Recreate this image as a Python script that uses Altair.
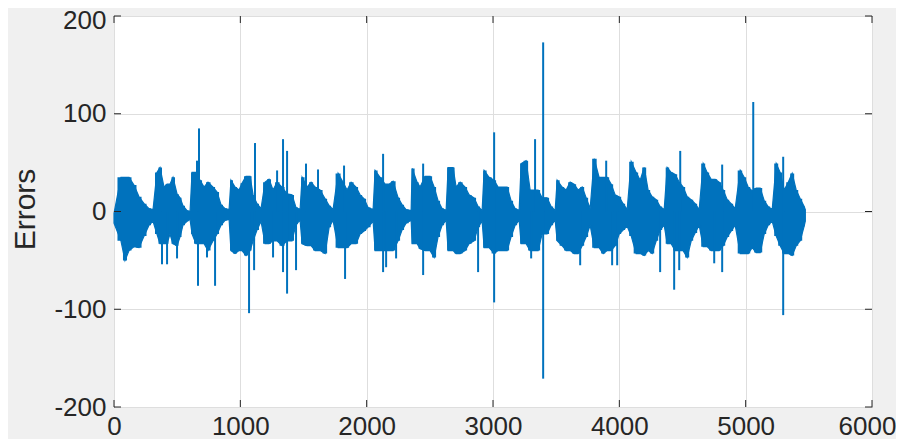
import altair as alt
import pandas as pd

# ---- data ----
title_text = "MSE = 288.1169, RMSE = 16.974"

# envelope of the dense error trace (upper / lower extent at each sample position)
err_x = [0, 55, 87, 119, 158, 198, 238, 277, 309, 340, 364, 396, 420, 443, 467, 499, 523, 546, 578, 602,
         618, 649, 681, 713, 744, 784, 816, 847, 879, 911, 926, 958, 990, 1013, 1045, 1077, 1101, 1132, 1164,
         1196, 1227, 1259, 1291, 1330, 1370, 1409, 1441, 1473, 1489, 1528, 1560, 1592, 1631, 1671, 1703, 1734,
         1774, 1813, 1845, 1877, 1916, 1948, 1980, 2011, 2051, 2067, 2106, 2146, 2177, 2209, 2249, 2280, 2312,
         2352, 2360, 2399, 2423, 2463, 2502, 2534, 2565, 2597, 2629, 2645, 2684, 2708, 2740, 2779, 2811, 2850,
         2882, 2914, 2930, 2969, 3009, 3040, 3080, 3112, 3143, 3175, 3207, 3223, 3262, 3294, 3326, 3357, 3389,
         3428, 3460, 3492, 3508, 3547, 3579, 3611, 3642, 3674, 3706, 3737, 3769, 3801, 3840, 3872, 3904, 3935,
         3967, 3999, 4030, 4062, 4094, 4133, 4165, 4197, 4228, 4260, 4292, 4323, 4355, 4379, 4410, 4442, 4474,
         4505, 4537, 4569, 4600, 4632, 4664, 4695, 4727, 4759, 4790, 4822, 4854, 4885, 4917, 4957, 4988, 5020,
         5052, 5083, 5115, 5147, 5178, 5210, 5242, 5273, 5305, 5337, 5368, 5400, 5432, 5463, 5472]
err_upper = [-2, 35, 35, 35, 27, 15, 8, 3, 2, 40, 45, 25, 28, 28, 35, 18, 14, 6, 1, 0,
             40, 40, 32, 25, 30, 25, 20, 7, 3, 2, 32, 25, 22, 29, 36, 36, 17, 8, 3,
             30, 33, 22, 30, 25, 18, 17, 4, 2, 35, 25, 30, 25, 22, 13, 6, 2,
             39, 30, 22, 30, 25, 17, 13, 4, 2, 42, 35, 28, 28, 31, 14, 7, 2,
             1, 44, 30, 25, 36, 36, 25, 11, 3, 1, 45, 45, 25, 30, 25, 17, 14,
             5, 1, 42, 35, 32, 25, 25, 25, 11, 3, 1, 49, 52, 22, 22, 22, 14,
             14, 5, 1, 32, 25, 22, 30, 28, 22, 25, 14, 3, 54, 35, 35, 35, 28,
             17, 15, 8, 2, 51, 40, 32, 45, 22, 15, 12, 5, 2, 45, 40, 38, 30,
             25, 15, 12, 8, 2, 49, 40, 33, 33, 30, 22, 12, 8, 3, 42, 35, 25,
             21, 24, 24, 11, 5, 2, 49, 40, 22, 30, 39, 22, 13, 5, 2]
err_lower = [-12, -30, -50, -40, -36, -37, -25, -14, -10, -23, -33, -33, -33, -23, -33, -35, -26, -14, -10, -8,
             -23, -33, -33, -33, -40, -30, -23, -14, -9, -8, -40, -43, -40, -40, -45, -40, -30, -19, -10,
             -33, -33, -30, -30, -35, -30, -30, -13, -9, -33, -35, -35, -40, -40, -43, -16, -9,
             -37, -37, -37, -33, -33, -23, -20, -16, -10, -40, -40, -40, -40, -40, -30, -19, -12,
             -9, -33, -33, -38, -40, -40, -47, -26, -14, -9, -40, -40, -43, -43, -40, -33, -30,
             -16, -10, -37, -37, -43, -40, -40, -40, -26, -14, -9, -33, -33, -40, -40, -40, -23,
             -23, -14, -9, -30, -35, -40, -40, -43, -43, -35, -26, -14, -37, -37, -43, -40, -40,
             -35, -23, -19, -15, -25, -43, -43, -45, -40, -43, -30, -19, -14, -33, -33, -40, -40,
             -40, -47, -30, -22, -14, -36, -36, -40, -40, -40, -35, -26, -20, -14, -43, -43, -43,
             -37, -42, -42, -23, -14, -10, -25, -35, -43, -43, -45, -35, -30, -15, -10]

# isolated single-sample spikes that stick out of the envelope
spike_x = [380, 420, 499, 657, 665, 673, 736, 800, 1069, 1109, 1116, 1259, 1291, 1338, 1338, 1370, 1370,
           1441, 1520, 1615, 1821, 1829, 2130, 2130, 2154, 2233, 2447, 2447, 2882, 3009, 3009, 3302, 3333,
           3397, 3397, 3690, 3896, 3943, 3983, 4323, 4434, 4474, 4482, 4751, 4814, 4814, 5060, 5297, 5297]
spike_y = [-54, -54, -48, 52, -76, 85, -47, -76, -104, -60, 70, -47, 42, 74, -62, 62, -84,
           -60, 49, 43, 47, -69, 59, -62, -57, -48, 49, -65, -62, 81, -93, -48, 74,
           173, -171, -55, 52, -55, -55, -62, -80, -60, 62, -53, 48, -62, 112, 56, -106]

x_ticks = [0, 1000, 2000, 3000, 4000, 5000, 6000]
y_ticks = [-200, -100, 0, 100, 200]

# ---- styling ----
BLUE = "#0072BD"
INK = "#262626"
FONT = "Liberation Sans"
W, H = 758, 391
LABEL_EXPR = "datum.value < 0 ? '-' + (-datum.value) : '' + datum.value"

body_df = pd.DataFrame({"x": err_x, "upper": err_upper, "lower": err_lower})
spike_df = pd.DataFrame({"x": spike_x, "y": spike_y, "base": [0] * len(spike_x)})
xt_df = pd.DataFrame({"v": x_ticks})
yt_df = pd.DataFrame({"v": y_ticks})

xscale = alt.Scale(domain=[0, 6000], nice=False, zero=False)
yscale = alt.Scale(domain=[-200, 200], nice=False, zero=False)

xaxis = alt.Axis(values=x_ticks, labelExpr=LABEL_EXPR, grid=True, gridColor="#dedede", ticks=False, tickSize=0,
                 domain=False, labelFlush=False, labelPadding=6, labelFontSize=26, labelFont=FONT,
                 labelColor=INK, title=None,
                 labelOffset={"condition": {"test": "datum.value == 6000", "value": -5}, "value": 0})
yaxis = alt.Axis(values=y_ticks, labelExpr=LABEL_EXPR, grid=True, gridColor="#dedede", ticks=False, tickSize=0,
                 domain=False, labelFlush=False, labelPadding=8, labelFontSize=26, labelFont=FONT,
                 labelColor=INK, title="Errors", titleFontSize=30, titleFont=FONT, titleFontWeight="normal",
                 titleColor=INK, titleAngle=270, titleAlign="center", titleBaseline="alphabetic",
                 titleX=-80, titleY=193,
                 labelOffset={"condition": {"test": "datum.value == 200", "value": 4}, "value": 0})

body_linear = alt.Chart(body_df).mark_area(color=BLUE, interpolate="linear", opacity=1,
                                           stroke=BLUE, strokeWidth=1.2).encode(
    x=alt.X("x:Q", scale=xscale, axis=xaxis),
    y=alt.Y("upper:Q", scale=yscale, axis=yaxis),
    y2="lower:Q",
)
body_step = alt.Chart(body_df).mark_area(color=BLUE, interpolate="step", opacity=1).encode(
    x=alt.X("x:Q", scale=xscale),
    y=alt.Y("upper:Q", scale=yscale),
    y2="lower:Q",
)

spikes = alt.Chart(spike_df).mark_rule(color=BLUE, strokeWidth=2).encode(
    x=alt.X("x:Q", scale=xscale),
    y=alt.Y("base:Q", scale=yscale),
    y2="y:Q",
)

tick_style = dict(color=INK, strokeWidth=1)
left_ticks = alt.Chart(yt_df).mark_rule(**tick_style).encode(
    y=alt.Y("v:Q", scale=yscale), x=alt.value(0), x2=alt.value(7))
right_ticks = alt.Chart(yt_df).mark_rule(**tick_style).encode(
    y=alt.Y("v:Q", scale=yscale), x=alt.value(W - 7), x2=alt.value(W))
bottom_ticks = alt.Chart(xt_df).mark_rule(**tick_style).encode(
    x=alt.X("v:Q", scale=xscale), y=alt.value(H - 7), y2=alt.value(H))
top_ticks = alt.Chart(xt_df).mark_rule(**tick_style).encode(
    x=alt.X("v:Q", scale=xscale), y=alt.value(0), y2=alt.value(7))

chart = alt.layer(body_linear, body_step, spikes, left_ticks, right_ticks, bottom_ticks, top_ticks).properties(
    width=W,
    height=H,
    autosize=alt.AutoSizeParams(type="none"),
    padding={"left": 106, "top": 8, "right": 24, "bottom": 32},
    title=alt.TitleParams(title_text, font=FONT, fontSize=24, fontWeight="bold", color="#000000",
                          anchor="middle", baseline="bottom", offset=3),
).configure(
    background="#f0f0f0",
).configure_view(
    fill="white", stroke=INK, strokeWidth=1,
)

chart.save("out.html", embed_options={"renderer": "svg", "actions": False})
